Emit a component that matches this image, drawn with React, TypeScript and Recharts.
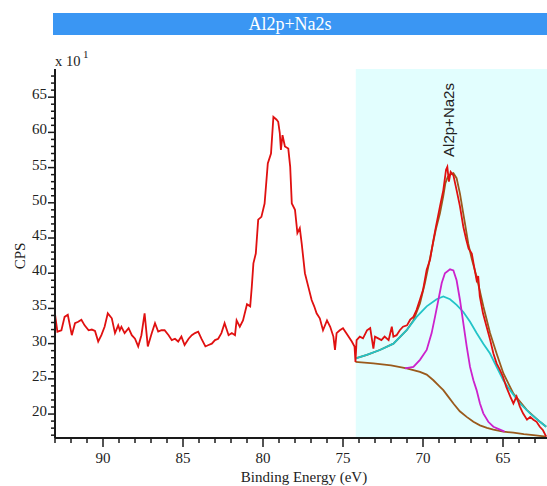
import React from 'react'
import { ComposedChart, Line, XAxis, YAxis, ReferenceArea } from 'recharts'

// binding energy (eV), counts (x10 CPS)
const rawSpectrum: number[][] = [
  [93.0, 34.2], [92.85, 31.7], [92.6, 31.9], [92.4, 33.8], [92.2, 34.1], [91.95, 31.2],
  [91.75, 32.9], [91.55, 33.1], [91.35, 33.4], [91.15, 32.6], [90.9, 31.9], [90.7, 32.0],
  [90.5, 31.8], [90.3, 30.3], [90.1, 31.2], [89.9, 32.4], [89.7, 34.3], [89.45, 33.6],
  [89.25, 31.5], [89.05, 32.6], [88.95, 31.9], [88.85, 32.4], [88.65, 31.5], [88.4, 32.2],
  [88.2, 31.2], [88.0, 30.7], [87.8, 29.6], [87.6, 31.2], [87.4, 34.3], [87.2, 29.6],
  [86.95, 31.5], [86.75, 32.9], [86.55, 31.7], [86.35, 31.9], [86.15, 31.9], [85.9, 31.2],
  [85.7, 30.5], [85.5, 30.7], [85.3, 30.3], [85.1, 31.0], [84.9, 29.8], [84.65, 30.7],
  [84.45, 31.2], [84.25, 31.5], [84.05, 31.7], [83.85, 30.7], [83.6, 29.6], [83.4, 29.8],
  [83.2, 30.0], [83.0, 30.5], [82.8, 30.7], [82.6, 31.5], [82.4, 32.9], [82.15, 31.2],
  [81.95, 31.5], [81.75, 31.2], [81.65, 33.3], [81.45, 32.4], [81.25, 33.3], [81.0, 35.6],
  [80.8, 35.3], [80.7, 38.1], [80.6, 41.4], [80.45, 42.8], [80.3, 47.6], [80.1, 48.0],
  [79.9, 49.9], [79.7, 55.6], [79.5, 57.0], [79.35, 62.2], [79.15, 61.8], [79.05, 61.5],
  [78.95, 59.9], [78.88, 57.5], [78.78, 59.6], [78.63, 58.0], [78.42, 57.7], [78.3, 55.1],
  [78.2, 49.9], [78.0, 49.0], [77.85, 45.7], [77.7, 46.4], [77.58, 44.2], [77.38, 40.0],
  [77.17, 38.1], [76.96, 36.2], [76.8, 35.3], [76.65, 34.3], [76.45, 33.6], [76.25, 31.9],
  [76.0, 33.3], [75.8, 32.4], [75.6, 31.0], [75.5, 29.1], [75.4, 31.5], [75.2, 31.9],
  [75.0, 32.2], [74.8, 31.5], [74.45, 30.3], [74.28, 29.6], [74.22, 27.4], [74.15, 30.5],
  [73.95, 31.0], [73.75, 30.75], [73.5, 31.9], [73.3, 32.2], [73.1, 29.3], [73.0, 31.0],
  [72.8, 30.75], [72.6, 30.5], [72.4, 31.0], [72.15, 30.5], [71.95, 32.4], [71.85, 31.0],
  [71.65, 31.2], [71.45, 31.9], [71.25, 32.4], [71.0, 32.6], [70.8, 33.4], [70.6, 33.8],
  [70.4, 34.8], [70.2, 36.2], [70.0, 37.6], [69.77, 40.5], [69.56, 41.9], [69.35, 44.7],
  [69.2, 46.5], [68.94, 49.5], [68.73, 51.8], [68.56, 54.7], [68.48, 55.1], [68.38, 53.0],
  [68.27, 54.4], [68.1, 53.9], [67.9, 51.8], [67.69, 49.5], [67.48, 46.6], [67.3, 44.8],
  [67.15, 43.5], [66.95, 42.8], [66.85, 41.5], [66.65, 39.0], [66.55, 39.6], [66.45, 36.7],
  [66.25, 34.3], [66.05, 32.6], [65.8, 30.5], [65.6, 28.6], [65.4, 27.2], [65.2, 26.3],
  [65.0, 25.3], [64.8, 23.9], [64.55, 22.5], [64.35, 21.5], [64.15, 22.5], [63.95, 21.1],
  [63.75, 20.1], [63.5, 19.2], [63.3, 19.6], [63.1, 19.2], [62.9, 18.9], [62.7, 18.2],
  [62.5, 17.7], [62.3, 16.8],
]

const shirleyBackground: number[][] = [
  [74.22, 27.4], [73.1, 27.2], [72.0, 26.9], [71.02, 26.5], [70.19, 26.0], [69.77, 25.6],
  [69.35, 24.8], [69.0, 24.0], [68.73, 23.4], [68.4, 22.4], [68.1, 21.5], [67.7, 20.4],
  [67.27, 19.6], [66.85, 18.9], [66.44, 18.4], [66.0, 18.05], [65.6, 17.8], [64.98, 17.5],
  [64.35, 17.35], [63.7, 17.15], [63.1, 17.0], [62.3, 16.8],
]

const fitEnvelope: number[][] = [
  [74.22, 27.9], [73.5, 28.4], [72.7, 29.1], [71.85, 30.0], [71.02, 31.9], [70.6, 33.3],
  [70.19, 35.7], [69.88, 38.6], [69.67, 40.9], [69.46, 43.3], [69.2, 46.2], [68.94, 48.5],
  [68.73, 51.0], [68.6, 52.8], [68.45, 53.7], [68.31, 54.0], [68.1, 54.2], [67.9, 53.5],
  [67.69, 51.3], [67.5, 48.7], [67.38, 47.1], [67.17, 44.2], [66.95, 42.0], [66.65, 39.5],
  [66.23, 35.3], [65.81, 31.5], [65.4, 28.6], [64.98, 25.8], [64.35, 22.9], [63.52, 20.6],
  [62.69, 18.9], [62.3, 18.2],
]

const broadComponent: number[][] = [
  [74.2, 27.9], [73.52, 28.4], [72.69, 29.1], [71.85, 30.0], [71.02, 31.9], [70.4, 33.8],
  [69.77, 35.3], [69.15, 36.3], [68.73, 36.7], [68.31, 36.3], [67.9, 35.5], [67.48, 34.5],
  [67.06, 33.1], [66.65, 31.5], [66.23, 30.0], [65.81, 28.6], [65.4, 26.7], [64.98, 24.8],
  [64.56, 23.4], [63.94, 21.5], [63.31, 20.1], [62.69, 18.9], [62.3, 18.2],
]

const narrowComponent: number[][] = [
  [71.13, 26.5], [70.6, 26.7], [70.19, 27.7], [69.77, 29.1], [69.46, 31.5], [69.25, 33.8],
  [69.04, 36.2], [68.83, 38.6], [68.63, 40.0], [68.31, 40.55], [68.1, 40.4], [67.9, 39.0],
  [67.69, 36.2], [67.48, 32.9], [67.27, 29.6], [67.06, 26.7], [66.85, 24.8], [66.65, 23.4],
  [66.44, 21.5], [66.23, 20.1], [65.92, 18.9], [65.6, 18.2], [65.19, 17.8], [64.9, 17.5],
]

const peakName = 'Al2p+Na2s'
const xMajor = [65, 70, 75, 80, 85, 90]
const yMajor = [20, 25, 30, 35, 40, 45, 50, 55, 60, 65]
const xTicks = Array.from({ length: 31 }, (_, i) => 63 + i)
const yTicks = Array.from({ length: 52 }, (_, i) => 17 + i)
const fitRegion = [74.2, 62.25]

const toPts = (rows: number[][]) => rows.map(([e, cps]) => ({ e, cps }))

const serif = 'Liberation Serif, Times New Roman, serif'
const axisColor = '#1a1a1a'

const XTick = (props: any) => {
  const { x, y, payload } = props
  const major = xMajor.includes(payload.value)
  return (
    <g>
      <line x1={x} x2={x} y1={y} y2={y + (major ? 9 : 5)} stroke={axisColor} strokeWidth={1.5} />
      {major && (
        <text x={x} y={y + 25} textAnchor="middle" style={{ fontFamily: serif, fontSize: 15 }} fill="#222">
          {payload.value}
        </text>
      )}
    </g>
  )
}

const YTick = (props: any) => {
  const { x, y, payload } = props
  const major = yMajor.includes(payload.value)
  return (
    <g>
      <line x1={x - (major ? 7 : 4)} x2={x} y1={y} y2={y} stroke={axisColor} strokeWidth={1.5} />
      {major && (
        <text x={x - 8} y={y + 2} textAnchor="end" style={{ fontFamily: serif, fontSize: 15 }} fill="#222">
          {payload.value}
        </text>
      )}
    </g>
  )
}

export default function App() {
  return (
    <div style={{ position: 'absolute', left: 0, top: 0, width: 547, height: 486, background: '#fff' }}>
      <ComposedChart width={547} height={486} margin={{ top: 69, right: 0, bottom: 0, left: 0 }}>
        <XAxis
          dataKey="e"
          type="number"
          domain={[62.25, 93]}
          reversed
          allowDataOverflow
          ticks={xTicks}
          interval={0}
          tick={<XTick />}
          tickLine={false}
          tickSize={0}
          tickMargin={0}
          height={48}
          axisLine={{ stroke: axisColor, strokeWidth: 2 }}
        />
        <XAxis
          xAxisId="top"
          orientation="top"
          dataKey="e"
          type="number"
          domain={[62.25, 93]}
          reversed
          tick={false}
          tickLine={false}
          height={0}
          axisLine={{ stroke: axisColor, strokeWidth: 2 }}
        />
        <YAxis
          type="number"
          domain={[16.6, 69]}
          allowDataOverflow
          ticks={yTicks}
          interval={0}
          tick={<YTick />}
          tickLine={false}
          tickSize={0}
          tickMargin={0}
          width={55}
          axisLine={{ stroke: axisColor, strokeWidth: 2 }}
        />
        <ReferenceArea x1={fitRegion[0]} x2={fitRegion[1]} fill="#e2fefe" fillOpacity={1} stroke="none" />
        <Line data={toPts(shirleyBackground)} dataKey="cps" stroke="#9a5a1c" strokeWidth={1.8} dot={false} isAnimationActive={false} />
        <Line data={toPts(fitEnvelope)} dataKey="cps" stroke="#9a5a1c" strokeWidth={1.8} dot={false} isAnimationActive={false} />
        <Line data={toPts(broadComponent)} dataKey="cps" stroke="#22c4c8" strokeWidth={1.8} dot={false} isAnimationActive={false} />
        <Line data={toPts(narrowComponent)} dataKey="cps" stroke="#cc22cc" strokeWidth={1.8} dot={false} isAnimationActive={false} />
        <Line data={toPts(rawSpectrum)} dataKey="cps" stroke="#e01010" strokeWidth={1.8} dot={false} isAnimationActive={false} />
      </ComposedChart>
      <svg width={547} height={486} style={{ position: 'absolute', left: 0, top: 0, pointerEvents: 'none', fontFamily: serif }}>
        <rect x={53} y={13} width={494} height={22} fill="#3a96f3" />
        <text x={290} y={30} textAnchor="middle" fontSize={18} fill="#fff">
          {peakName}
        </text>
        <text x={55} y={66} fontSize={14.5} fill="#222">
          x 10
        </text>
        <text x={83} y={58} fontSize={11} fill="#222">
          1
        </text>
        <text
          x={20}
          y={256}
          transform="rotate(-90, 20, 256)"
          textAnchor="middle"
          dominantBaseline="central"
          fontSize={15}
          fill="#222"
        >
          CPS
        </text>
        <text x={304} y={482} textAnchor="middle" fontSize={15} fill="#222">
          Binding Energy (eV)
        </text>
        <text
          x={448}
          y={120}
          transform="rotate(-90, 448, 120)"
          textAnchor="middle"
          dominantBaseline="central"
          style={{ fontFamily: 'Liberation Sans, Arial, sans-serif' }}
          fontSize={15}
          fill="#222"
        >
          {peakName}
        </text>
      </svg>
    </div>
  )
}
